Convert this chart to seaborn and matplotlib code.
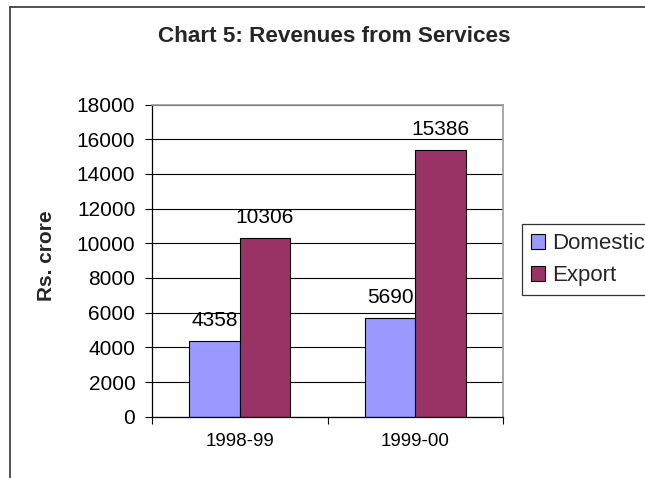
import matplotlib
matplotlib.use("Agg")
import matplotlib.pyplot as plt
from matplotlib.lines import Line2D
from matplotlib.ticker import FixedLocator, MultipleLocator
import pandas as pd
import seaborn as sns

# Revenue data (Rs. crore)
years = ["1998-99", "1999-00"]
series_names = ["Domestic", "Export"]
domestic = [4358, 5690]
export = [10306, 15386]
colors = ["#9999FF", "#993366"]

df = pd.DataFrame({
    "year": years * 2,
    "series": [series_names[0]] * len(years) + [series_names[1]] * len(years),
    "value": domestic + export,
})

sns.set_style("white")
plt.rcParams["font.family"] = ["Liberation Sans", "DejaVu Sans"]

W, H = 645, 478
fig = plt.figure(figsize=(W / 100, H / 100), dpi=100)
fig.patch.set_facecolor("white")

ax = fig.add_axes([152 / W, 1 - 416.7 / H, (503 - 152) / W, (416.7 - 104.5) / H])

sns.barplot(data=df, x="year", y="value", hue="series", palette=colors,
            width=0.575, edgecolor="black", linewidth=0.8, saturation=1,
            ax=ax, legend=True)

ax.set_xlim(-0.5, 1.5)
ax.set_ylim(0, 18000)
ax.yaxis.set_major_locator(MultipleLocator(2000))
ax.set_xlabel("")
ax.set_ylabel("")

# horizontal gridlines
ax.yaxis.grid(True, color="black", linewidth=0.8)
ax.xaxis.grid(False)
ax.set_axisbelow(True)

# spines: black axes, grey plot-area border
for side in ("left", "bottom"):
    ax.spines[side].set_color("black")
    ax.spines[side].set_linewidth(0.9)
for side in ("top", "right"):
    ax.spines[side].set_visible(True)
    ax.spines[side].set_color("#9a9a9a")
    ax.spines[side].set_linewidth(1.2)

ax.tick_params(axis="y", which="major", direction="out", length=5, width=0.8,
               color="black", pad=7, labelsize=15, labelcolor="black", left=True)
ax.tick_params(axis="x", which="major", length=0, pad=11.5, labelsize=13.5,
               labelcolor="black")
ax.xaxis.set_minor_locator(FixedLocator([-0.5, 0.5, 1.5]))
ax.tick_params(axis="x", which="minor", direction="out", length=5, width=0.8,
               color="black", bottom=True)

# value labels above bars
for cont in ax.containers:
    ax.bar_label(cont, fmt="%d", padding=8, fontsize=15, color="black")

# legend
handles, labels = ax.get_legend_handles_labels()
ax.get_legend().remove()
leg = fig.legend(handles, labels, loc="upper left",
                 bbox_to_anchor=(522 / W, 1 - 224.3 / H),
                 bbox_transform=fig.transFigure, frameon=True, fancybox=False,
                 fontsize=16, handlelength=0.65, handleheight=0.65,
                 handletextpad=0.3, borderpad=0.4, labelspacing=0.5,
                 borderaxespad=0)
leg.get_frame().set_edgecolor("black")
leg.get_frame().set_linewidth(0.9)
for h in leg.legend_handles:
    h.set_edgecolor("black")
    h.set_linewidth(0.8)

# title and axis label
fig.text(334 / W, 1 - 41.7 / H, "Chart 5: Revenues from Services",
         ha="center", va="baseline", fontsize=16.2, fontweight="bold")
fig.text(47 / W, 1 - 256 / H, "Rs. crore", rotation=90, ha="center",
         va="center", fontsize=15, fontweight="bold")

# chart-area border (left and top edges fall inside the canvas)
x0, y0 = 10 / W, 1 - 7 / H
fig.add_artist(Line2D([x0, x0], [0, y0], transform=fig.transFigure,
                      color="#333333", linewidth=1.2))
fig.add_artist(Line2D([x0, 1], [y0, y0], transform=fig.transFigure,
                      color="#333333", linewidth=1.2))

fig.savefig("out.png", dpi=100)
